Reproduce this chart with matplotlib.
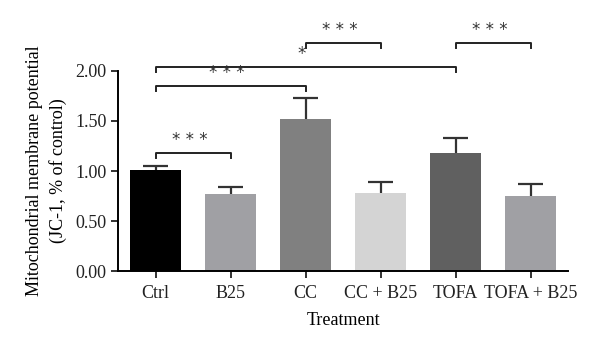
import matplotlib.pyplot as plt
import numpy as np

groups = ["Ctrl", "B25", "CC", "CC + B25", "TOFA", "TOFA + B25"]
means = [1.01, 0.77, 1.52, 0.78, 1.18, 0.75]
errors = [0.04, 0.07, 0.21, 0.11, 0.15, 0.12]
colors = ["#000000", "#a0a0a4", "#808080", "#d4d4d4", "#606060", "#a0a0a4"]

# comparisons: (left group, right group, bracket height, label)
comparisons = [
    (0, 1, 1.18, "* * *"),
    (0, 2, 1.85, "* * *"),
    (0, 4, 2.04, "*"),
    (2, 3, 2.28, "* * *"),
    (4, 5, 2.28, "* * *"),
]

plt.rcParams['font.family'] = ['Liberation Serif', 'DejaVu Serif']

fig = plt.figure(figsize=(6, 3.53), dpi=100)
ax = fig.add_axes([0.197, 0.232, 0.750, 0.567])

x = np.arange(len(groups))
tops = np.array(means) + np.array(errors)
# upper error bars only, no cap at the bar top
ax.vlines(x, means, tops, color="#333333", lw=1.6, zorder=1)
ax.hlines(tops, x - 0.17, x + 0.17, color="#333333", lw=1.6, zorder=1)
ax.bar(x, means, width=0.68, color=colors, zorder=2)

leg = 0.05
for a, b, h, lab in comparisons:
    ax.plot([x[a], x[a], x[b], x[b]], [h - leg, h, h, h - leg], color="#222222",
            lw=1.4, clip_on=False)
    ax.text((x[a] + x[b]) / 2 - 0.05, h + 0.04, lab, ha="center", va="bottom",
            fontsize=12, family="DejaVu Sans", color="#333333", clip_on=False)

ax.set_xlim(-0.5, 5.5)
ax.set_ylim(0, 2.0)
ax.set_yticks([0, 0.5, 1.0, 1.5, 2.0])
ax.set_yticklabels(["0.00", "0.50", "1.00", "1.50", "2.00"])
ax.set_xticks(x)
ax.set_xticklabels(groups)
ax.tick_params(labelsize=13, width=1.3, length=5, colors="#222222")
ax.tick_params(axis="x", pad=5)
ax.spines["top"].set_visible(False)
ax.spines["right"].set_visible(False)
ax.spines["left"].set_linewidth(1.4)
ax.spines["bottom"].set_linewidth(1.4)
ax.set_xlabel("Treatment", fontsize=13, labelpad=7)
ax.set_ylabel("Mitochondrial membrane potential\n(JC-1, % of control)", fontsize=13,
              linespacing=1.45, labelpad=6)

fig.savefig("out.png", dpi=100)
